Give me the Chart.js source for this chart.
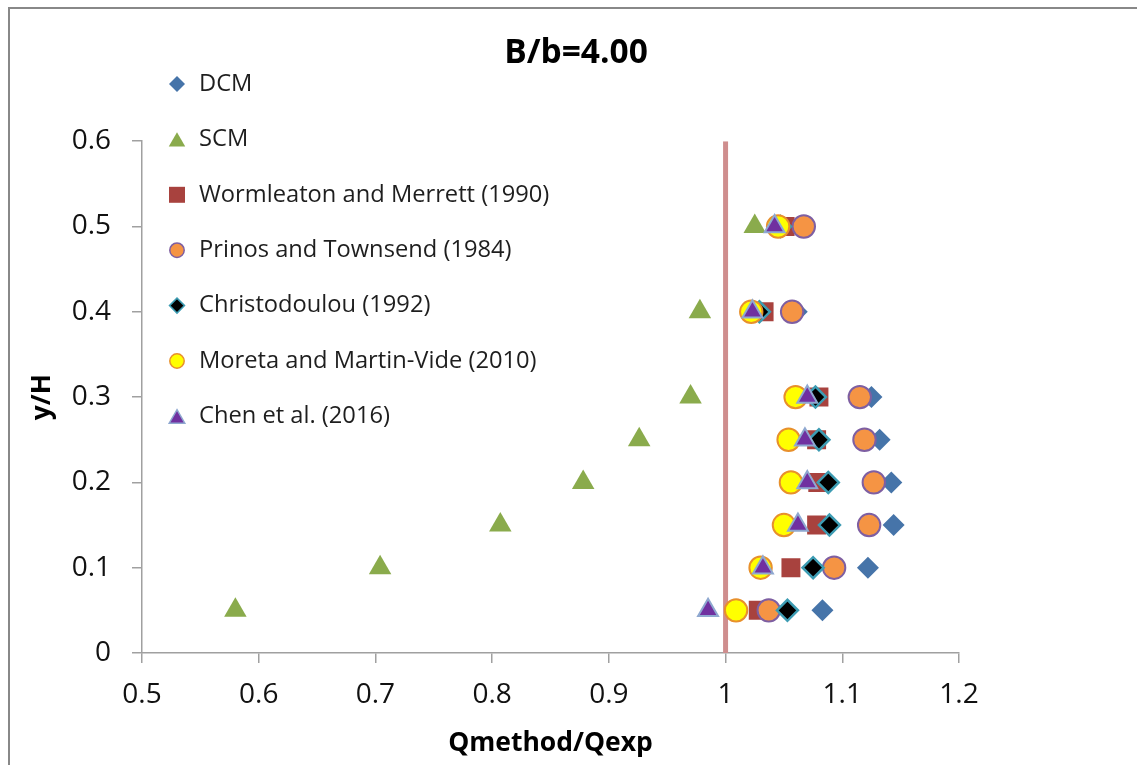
<!DOCTYPE html>
<html><head><meta charset="utf-8">
<script src="https://cdn.jsdelivr.net/npm/chart.js@4.4.0/dist/chart.umd.min.js"></script>
<style>
html,body{margin:0;padding:0;background:#fff;}
#wrap{position:relative;width:1137px;height:765px;overflow:hidden;}
#frame{position:absolute;left:8px;top:7px;right:-10px;bottom:-10px;border-top:2px solid #888;border-left:2px solid #888;pointer-events:none;}
canvas{position:absolute;left:0;top:0;}
</style></head><body>
<div id="wrap"><canvas id="c" width="1137" height="765"></canvas><div id="frame"></div></div>
<script>
// ---- data ----
const yLevels = [0.05, 0.1, 0.15, 0.2, 0.25, 0.3, 0.4, 0.5];
const dcm          = [1.083, 1.122, 1.144, 1.142, 1.132, 1.125, 1.061, 1.068];
const scm          = [0.580, 0.704, 0.807, 0.878, 0.926, 0.970, 0.978, 1.025];
const wormleaton   = [1.028, 1.056, 1.078, 1.079, 1.078, 1.080, 1.033, 1.051];
const prinos       = [1.037, 1.093, 1.123, 1.127, 1.119, 1.115, 1.057, 1.067];
const christodoulou= [1.053, 1.075, 1.089, 1.088, 1.080, 1.077, 1.029, 1.047];
const moreta       = [1.009, 1.030, 1.050, 1.056, 1.054, 1.060, 1.022, 1.045];
const chen         = [0.985, 1.032, 1.062, 1.070, 1.068, 1.070, 1.023, 1.042];
const seriesNames = ['DCM', 'SCM', 'Wormleaton and Merrett (1990)', 'Prinos and Townsend (1984)',
  'Christodoulou (1992)', 'Moreta and Martin-Vide (2010)', 'Chen et al. (2016)'];
const refLineX = [1, 1];
const refLineY = [0, 0.6];
const xTickLabels = ['0.5', '0.6', '0.7', '0.8', '0.9', '1', '1.1', '1.2'];
const yTickLabels = ['0', '0.1', '0.2', '0.3', '0.4', '0.5', '0.6'];
const titleText = 'B/b=4.00';
const xTitle = 'Qmethod/Qexp';
const yTitle = 'y/H';

// ---- styles ----
const seriesValues = [dcm, scm, wormleaton, prinos, christodoulou, moreta, chen];
const styles = [
  {shape: 'rectRot', bg: '#4674a9', bd: '#4674a9', r: 11, bw: 0, lr: 8, lbw: 0},
  {shape: 'triangle', bg: '#8aab4c', bd: '#8aab4c', r: 13, bw: 0, lr: 9.5, lbw: 0},
  {shape: 'rect', bg: '#a8423e', bd: '#a8423e', r: 13.4, bw: 0, lr: 11.3, lbw: 0},
  {shape: 'circle', bg: '#f59444', bd: '#7e5fa2', r: 11.2, bw: 2, lr: 7.2, lbw: 1.5},
  {shape: 'rectRot', bg: '#000000', bd: '#3d9cb3', r: 10.5, bw: 2.5, lr: 7.5, lbw: 1.5},
  {shape: 'circle', bg: '#ffff00', bd: '#e8902c', r: 11.2, bw: 2, lr: 7.2, lbw: 1.5},
  {shape: 'triangle', bg: '#7030a0', bd: '#8fa8d0', r: 11.5, bw: 2, lr: 9, lbw: 1.5}
];

const datasets = seriesValues.map((vals, i) => ({
  label: seriesNames[i],
  data: vals.map((v, j) => ({x: v, y: yLevels[j]})),
  pointStyle: styles[i].shape,
  backgroundColor: styles[i].bg,
  borderColor: styles[i].bd,
  pointRadius: styles[i].r,
  pointHoverRadius: styles[i].r,
  pointBorderWidth: styles[i].bw,
  borderWidth: styles[i].bw,
  showLine: false,
  order: 10 - i
}));
datasets.push({
  label: 'ref',
  data: refLineX.map((v, j) => ({x: v, y: refLineY[j]})),
  showLine: true,
  borderColor: '#cf8e8e',
  borderWidth: 5,
  pointRadius: 0,
  order: 100
});

const sideLegend = {
  id: 'sideLegend',
  afterDraw(chart) {
    const ctx = chart.ctx;
    const x0 = 177, y0 = 84, step = 55.4;
    styles.forEach((s, i) => {
      let y = y0 + i * step;
      ctx.save();
      ctx.fillStyle = s.bg;
      ctx.strokeStyle = s.bd;
      ctx.lineWidth = s.lbw;
      const py = s.shape === 'triangle' ? y + s.lr / 4 : y;
      Chart.helpers.drawPoint(ctx, {pointStyle: s.shape, radius: s.lr, borderWidth: s.lbw, rotation: 0}, x0, py);
      ctx.fillStyle = '#1e1e1e';
      ctx.font = '23.7px "Open Sans"';
      ctx.textBaseline = 'middle';
      ctx.textAlign = 'left';
      ctx.fillText(seriesNames[i], 199, y);
      ctx.restore();
    });
  }
};

function labelFor(list, v) {
  for (const l of list) { if (Math.abs(parseFloat(l) - v) < 1e-6) return l; }
  return '';
}

const axisColor = '#a0a0a0';
new Chart(document.getElementById('c'), {
  type: 'scatter',
  data: {datasets},
  options: {
    responsive: false,
    animation: false,
    devicePixelRatio: 1,
    events: [],
    layout: {padding: {left: 15, right: 0, top: 0, bottom: 0}},
    plugins: {
      legend: {display: false},
      tooltip: {enabled: false},
      title: {
        display: true, text: titleText, color: '#000',
        font: {family: 'Open Sans', size: 33.5, weight: 'bold'},
        padding: {top: 33, bottom: 68}
      }
    },
    scales: {
      x: {
        type: 'linear', position: 'bottom', min: 0.5, max: 1.2,
        ticks: {stepSize: 0.1, autoSkip: false, maxRotation: 0, padding: 15, color: '#111',
          font: {family: 'Open Sans', size: 28},
          callback: (v) => labelFor(xTickLabels, v)},
        grid: {drawOnChartArea: false, drawTicks: true, tickLength: 10, color: axisColor, lineWidth: 1.5},
        border: {color: axisColor, width: 1.5},
        title: {display: true, text: xTitle, color: '#000',
          font: {family: 'Open Sans', size: 26.5, weight: 'bold'}, padding: {top: 0, bottom: 6}},
        afterFit: (s) => { s.height = 112; }
      },
      y: {
        type: 'linear', position: 'left', min: 0, max: 0.6,
        ticks: {stepSize: 0.1, autoSkip: false, padding: 21, color: '#111',
          font: {family: 'Open Sans', size: 28},
          callback: (v) => labelFor(yTickLabels, v)},
        grid: {drawOnChartArea: false, drawTicks: true, tickLength: 10, color: axisColor, lineWidth: 1.5},
        border: {color: axisColor, width: 1.5},
        title: {display: true, text: yTitle, color: '#000',
          font: {family: 'Open Sans', size: 26.5, weight: 'bold'}, padding: {top: 12, bottom: 0}},
        afterFit: (s) => { s.width = 127; }
      },
      y2: {
        type: 'linear', position: 'right', display: true,
        grid: {display: false}, ticks: {display: false}, border: {display: false},
        afterFit: (s) => { s.width = 178; }
      }
    }
  },
  plugins: [sideLegend]
});
</script>
</body></html>
